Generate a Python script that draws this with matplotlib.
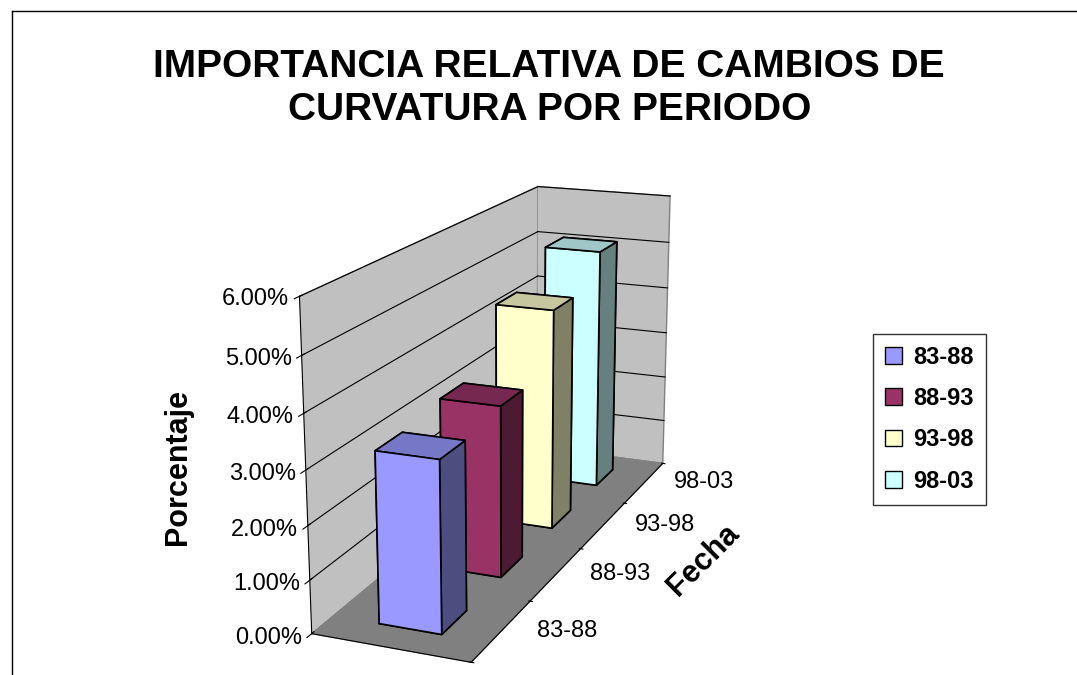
import matplotlib
matplotlib.use("Agg")
import matplotlib.pyplot as plt
import numpy as np
from matplotlib.lines import Line2D

plt.rcParams['font.family'] = ['Liberation Sans', 'DejaVu Sans']

title = "IMPORTANCIA RELATIVA DE CAMBIOS DE\nCURVATURA POR PERIODO"
periods = ['83-88', '88-93', '93-98', '98-03']
values = [3.2, 3.35, 4.5, 5.1]     # percent
colors = ['#9999FF', '#993366', '#FFFFCC', '#CCFFFF']
zticks = [0, 1, 2, 3, 4, 5, 6]

fig = plt.figure(figsize=(10.77, 6.75), dpi=100)
ax = fig.add_axes([0.1546, -0.0696, 0.62, 0.95], projection='3d')
ax.set_proj_type('persp', focal_length=0.5)
ax.view_init(elev=17, azim=-68)
ax.set_box_aspect((1, 3.6, 2.0))

ax.set_xlim(0, 1)
ax.set_ylim(0, len(periods))
ax.set_zlim(0, 6)

def shade(c, f):
    r, g, b = matplotlib.colors.to_rgb(c)
    return (r * f, g * f, b * f)

for i, (v, c) in enumerate(zip(values, colors)):
    side = shade(c, 0.5)
    top = shade(c, 0.78)
    # face order: -z, +z, -y, +y, -x, +x
    ax.bar3d(0.3, i + 0.3, 0, 0.4, 0.4, v,
             color=[side, top, c, c, side, side],
             edgecolor='black', linewidth=1.2, shade=False)

# walls and floor
ax.xaxis.set_pane_color('#C0C0C0')
ax.yaxis.set_pane_color('#C0C0C0')
ax.zaxis.set_pane_color('#808080')
for a in (ax.xaxis, ax.yaxis, ax.zaxis):
    a.pane.set_edgecolor('#808080')
    a.label.set_visible(False)
    a.offsetText.set_visible(False)
ax.grid(False)
for z in zticks[1:]:
    ax.plot([0, 0], [0, len(periods)], [z, z], color='black', lw=0.8)
    ax.plot([0, 1], [len(periods), len(periods)], [z, z], color='black', lw=0.8)

ax.set_xticks([])
# ticks at slot boundaries, labels at slot centres
ax.set_yticks(np.arange(len(periods) + 1))
for t in ax.yaxis.get_major_ticks():
    t.label1.set_visible(False)
    t.label2.set_visible(False)
for i, p in enumerate(periods):
    ax.text(1.22, i + 0.5, 0.1, p, fontsize=17, ha='left', va='center')

ax.set_zticks(zticks)
ax.set_zticklabels(['%.2f%%' % z for z in zticks], fontsize=17, ha='right', va='center')
ax.zaxis.set_ticks_position('lower')
ax.tick_params(axis='z', pad=-3)

fig.text(0.51, 0.869, title, ha='center', va='center', fontsize=28,
         fontweight='bold', linespacing=1.28)
fig.text(0.165, 0.308, 'Porcentaje', rotation=90, ha='center', va='center',
         fontsize=22, fontweight='bold')
fig.text(0.653, 0.17, 'Fecha', rotation=45, ha='center', va='center',
         fontsize=22, fontweight='bold')

handles = [plt.Rectangle((0, 0), 1, 1, facecolor=c, edgecolor='black') for c in colors]
leg = fig.legend(handles, periods, loc='center', bbox_to_anchor=(0.863, 0.379),
                 prop={'size': 17, 'weight': 'bold'}, frameon=True, fancybox=False,
                 handlelength=0.7, handleheight=0.7, labelspacing=0.78,
                 borderpad=0.5, handletextpad=0.5)
leg.get_frame().set_edgecolor('black')
leg.get_frame().set_linewidth(1.0)

fig.add_artist(Line2D([12 / 1077, 12 / 1077], [0, 1 - 11 / 675], color='black', lw=1))
fig.add_artist(Line2D([12 / 1077, 1], [1 - 11 / 675, 1 - 11 / 675], color='black', lw=1))

fig.savefig('out.png', dpi=100)
